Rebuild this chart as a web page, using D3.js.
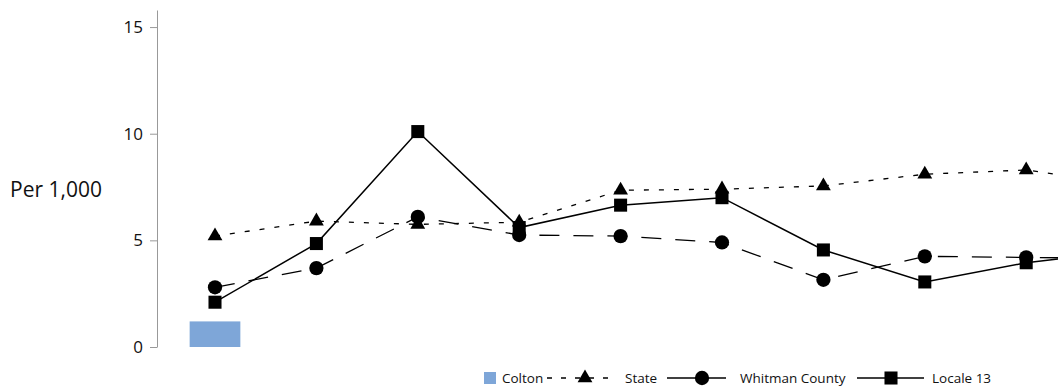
<!DOCTYPE html>
<html>
<head>
<meta charset="utf-8">
<script src="https://cdn.jsdelivr.net/npm/d3@7"></script>
<style>
  body { margin: 0; background: #fff; }
  svg { display: block; font-family: "Open Sans", "Noto Sans", sans-serif; }
</style>
</head>
<body>
<svg width="1058" height="388"></svg>
<script>
// categories (no labels shown on the x axis)
const categories = ["1", "2", "3", "4", "5", "6", "7", "8", "9", "10"]
const colton = [1.2, null, null, null, null, null, null, null, null, null]
const state = [5.2, 5.9, 5.75, 5.85, 7.35, 7.4, 7.55, 8.1, 8.3, 7.6]
const whitman = [2.8, 3.7, 6.1, 5.25, 5.2, 4.9, 3.15, 4.25, 4.2, 4.15]
const locale = [2.1, 4.85, 10.1, 5.6, 6.65, 7.0, 4.55, 3.05, 3.95, 4.5]
const yTicks = [0, 5, 10, 15]

const svg = d3.select("svg")

//scales
const x = d3.scaleBand().domain(categories).range([164.3, 164.3 + 101.4 * categories.length])
const y = d3.scaleLinear().domain([0, 15.8]).range([347, 10])
const cx = (i)=> x(categories[i]) + x.bandwidth() / 2

//y axis
const yAxis = svg.append("g").attr("transform", "translate(157,0)")
  .call(d3.axisLeft(y).tickValues(yTicks).tickSize(7).tickSizeOuter(0).tickPadding(7))
yAxis.select(".domain").attr("stroke", "#999")
yAxis.selectAll(".tick line").attr("stroke", "#999")
yAxis.selectAll(".tick text").attr("font-size", 17).attr("fill", "#111")
  .attr("font-family", "'Open Sans', 'Noto Sans', sans-serif")

svg.append("text").attr("x", 10).attr("y", 197).attr("font-size", 21).attr("fill", "#111")
  .text("Per 1,000")

//bar
const barW = x.bandwidth() * 0.5
svg.selectAll(".bar").data(colton.map((v, i)=>({v, i})).filter(d=>d.v != null))
  .enter().append("rect").attr("class", "bar")
  .attr("x", d=>cx(d.i) - barW / 2).attr("width", barW)
  .attr("y", d=>y(d.v)).attr("height", d=>y(0) - y(d.v))
  .attr("fill", "#7ea6d8")

//lines
const series = [
  {name: "State", values: state, dash: "5,10", width: 1.3, symbol: d3.symbolTriangle, size: 95},
  {name: "Whitman County", values: whitman, dash: "20,14", width: 1.3, symbol: d3.symbolCircle, size: 160},
  {name: "Locale 13", values: locale, dash: null, width: 1.5, symbol: d3.symbolSquare, size: 170}
]

const line = d3.line().x((d, i)=>cx(i)).y(d=>y(d))

series.forEach(s=>{
  const g = svg.append("g")
  g.append("path").datum(s.values).attr("d", line)
    .attr("fill", "none").attr("stroke", "#000").attr("stroke-width", s.width)
    .attr("stroke-dasharray", s.dash)
  g.selectAll("path.pt").data(s.values).enter().append("path").attr("class", "pt")
    .attr("transform", (d, i)=>"translate(" + cx(i) + "," + y(d) + ")")
    .attr("d", d3.symbol(s.symbol, s.size)).attr("fill", "#000")
})

//legend
const legend = svg.append("g").attr("font-size", 13.5).attr("fill", "#111")
const ly = 378
legend.append("rect").attr("x", 484).attr("y", ly - 6).attr("width", 12).attr("height", 12).attr("fill", "#7ea6d8")
legend.append("text").attr("x", 502).attr("y", ly + 5).text("Colton")

const legendItems = [
  {s: series[0], x1: 547, x2: 614, mid: 585, text: 625},
  {s: series[1], x1: 667, x2: 726, mid: 702, text: 740},
  {s: series[2], x1: 857, x2: 924, mid: 891, text: 932}
]
legendItems.forEach(it=>{
  legend.append("line").attr("x1", it.x1).attr("x2", it.x2)
    .attr("y1", ly).attr("y2", ly).attr("stroke", "#000").attr("stroke-width", it.s.width)
    .attr("stroke-dasharray", it.s.name == "State" ? "5,9" : null)
  legend.append("path").attr("transform", "translate(" + it.mid + "," + ly + ")")
    .attr("d", d3.symbol(it.s.symbol, it.s.size)).attr("fill", "#000")
  legend.append("text").attr("x", it.text).attr("y", ly + 5).text(it.s.name)
})
</script>
</body>
</html>
